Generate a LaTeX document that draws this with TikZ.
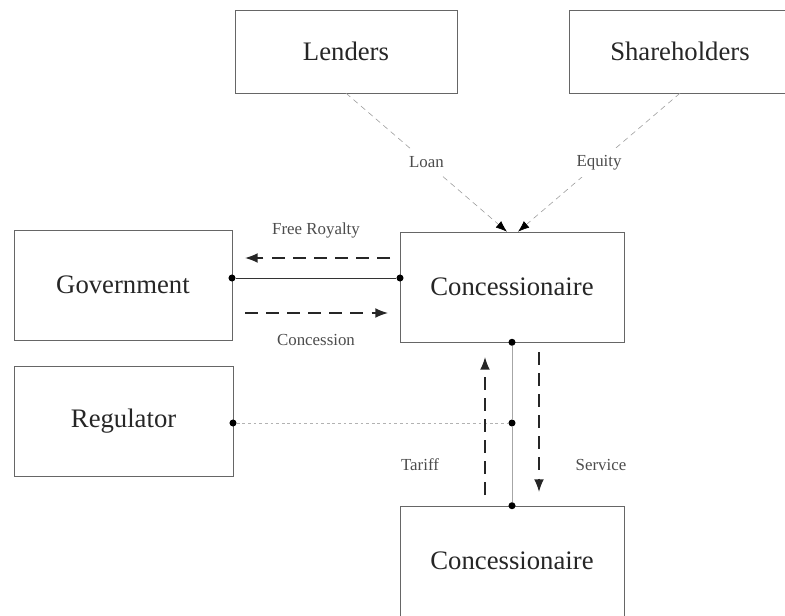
\documentclass[tikz,border=0pt]{standalone}
\usepackage{fontspec}
\setmainfont{Liberation Serif}
\usetikzlibrary{arrows,arrows.meta,shapes}

\begin{document}
\begin{tikzpicture}[
	box/.style = {draw=black!60, thin, minimum width=5.5cm, minimum height=2.75cm, font=\fontsize{19}{22}\selectfont, text=black!85},
	flow/.style = {-{Latex[length=9pt,width=7pt]}, line width=1.1pt, dash pattern=on 9pt off 6pt, black!85},
	fund/.style = {-{Latex[black,length=8pt,width=6pt]}, gray!80, dash pattern=on 4pt off 3pt},
	lbl/.style = {font=\fontsize{12}{14}\selectfont, text=black!70},
	dot/.style = {circle, fill=black, inner sep=0pt, minimum size=5pt}]
\path[use as bounding box, clip] (0,0) rectangle (19.625,15.375);

\node[box, minimum width=5.55cm, minimum height=2.075cm] (lend) at (8.65,14.09) {Lenders};
\node[box, minimum width=5.55cm, minimum height=2.075cm] (share) at (17.0,14.09) {Shareholders};

\node[box, minimum width=5.45cm] (gov) at (3.075,8.25) {Government};
\node[box, minimum width=5.475cm] (reg) at (3.09,4.84) {Regulator};

\node[box, minimum width=5.6cm] (conc) at (12.8,8.2) {Concessionaire};
\node[box, minimum width=5.6cm] (user) at (12.8,1.35) {Concessionaire};

\node[dot] (gd) at (5.8,8.425) {};
\node[dot] (cd) at (10.0,8.425) {};
\node[dot] (rd) at (5.825,4.8) {};
\node[dot] (md) at (12.8,4.8) {};
\node[dot] (cs) at (conc.south) {};
\node[dot] (un) at (user.north) {};

\draw[fund] (lend.south) -- node[lbl, fill=white, inner sep=5pt] {Loan} ([xshift=-0.125cm]conc.north);
\draw[fund] (share.south) -- node[lbl, fill=white, inner sep=5pt] {Equity} ([xshift=0.15cm]conc.north);

\draw[black!80] (gd) -- (cd);
	\coordinate (fr1) at (9.75,8.925);
	\coordinate (fr2) at (6.125,8.925);
	\coordinate (cn1) at (6.125,7.55);
	\coordinate (cn2) at (9.7,7.55);
	\draw[flow] (fr1) -- (fr2);
	\draw[flow] (cn1) -- (cn2);
	\node[lbl] (frl) at (7.9,9.625) {Free Royalty};
	\node[lbl] (cnl) at (7.9,6.875) {Concession};

\draw[gray!70] (cs) -- (md) -- (un);
\draw[gray!60, dash pattern=on 2pt off 2pt] (rd) -- (md);
	\coordinate (ta1) at (12.125,3.0);
	\coordinate (ta2) at (12.125,6.45);
	\coordinate (se1) at (13.475,6.575);
	\coordinate (se2) at (13.475,3.075);
	\draw[flow] (ta1) -- (ta2);
	\draw[flow] (se1) -- (se2);
	\node[lbl] (tal) at (10.5,3.75) {Tariff};
	\node[lbl] (sel) at (15.025,3.75) {Service};

\end{tikzpicture}
\end{document}
